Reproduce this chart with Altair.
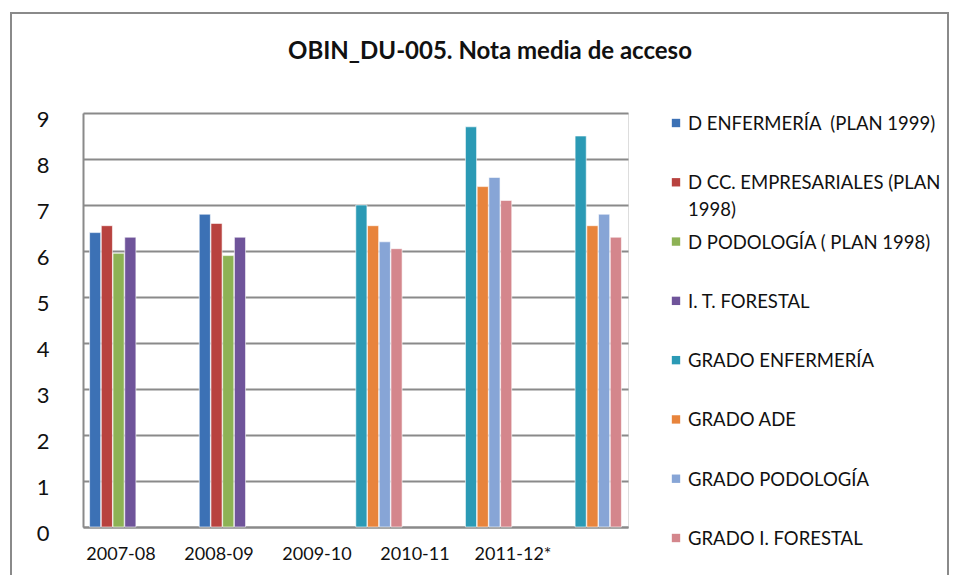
import altair as alt
import pandas as pd

years = ["2007-08", "2008-09", "2009-10", "2010-11", "2011-12*"]
series = [
    "D ENFERMERÍA  (PLAN 1999)",
    "D CC. EMPRESARIALES (PLAN 1998)",
    "D PODOLOGÍA ( PLAN 1998)",
    "I. T. FORESTAL",
    "GRADO ENFERMERÍA",
    "GRADO ADE",
    "GRADO PODOLOGÍA",
    "GRADO I. FORESTAL",
]
colors = ["#3C71B5", "#B8423F", "#8DB255", "#6F549A", "#2B9AB5", "#E8843C", "#87A5D6", "#D4868C"]
title_text = ["OBIN_DU-005. Nota media de acceso"]

d_enf = [6.4, 6.8, None, None, None]
d_cce = [6.55, 6.6, None, None, None]
d_pod = [5.95, 5.9, None, None, None]
it_for = [6.3, 6.3, None, None, None]
g_enf = [None, None, 7.0, 8.7, 8.5]
g_ade = [None, None, 6.55, 7.4, 6.55]
g_pod = [None, None, 6.2, 7.6, 6.8]
g_for = [None, None, 6.05, 7.1, 6.3]

values = [d_enf, d_cce, d_pod, it_for, g_enf, g_ade, g_pod, g_for]
rows = []
for s, vals in zip(series, values):
    for y, v in zip(years, vals):
        rows.append({"year": y, "series": s, "value": v})
df = pd.DataFrame(rows)

# legend table (display labels: keep double space, wrap the long one)
leg_df = pd.DataFrame({
    "series": series,
    "lab": [s.replace("  ", " \u00a0").replace("(PLAN 1998)", "(PLAN\n1998)") for s in series],
})
year_df = pd.DataFrame({"year": years})

W, H = 545, 414
FONT = "Lato"
color_scale = alt.Scale(domain=series, range=colors)

bars = alt.Chart(df).mark_bar(stroke="white", strokeWidth=0.6).encode(
    x=alt.X("year:N", sort=years, title=None,
            scale=alt.Scale(paddingInner=0.15, paddingOuter=0.06),
            axis=alt.Axis(labels=False, ticks=False, domainColor="#8a8a8a", domainWidth=2)),
    xOffset=alt.XOffset("series:N", sort=series,
                        scale=alt.Scale(domain=series, paddingInner=0.05)),
    y=alt.Y("value:Q", title=None,
            scale=alt.Scale(domain=[0, 9], nice=False),
            axis=alt.Axis(values=list(range(10)), labelFontSize=22, labelColor="#111",
                          labelFont=FONT, ticks=False, domainColor="#8a8a8a",
                          domainWidth=2, gridColor="#8a8a8a", gridWidth=2,
                          labelPadding=34, labelOffset=6)),
    color=alt.Color("series:N", sort=series, scale=color_scale, legend=None),
).transform_filter("isValid(datum.value)")

# category labels (perspective-shifted front plane)
xlabels = alt.Chart(year_df).mark_text(
    font=FONT, fontSize=18, color="#111", baseline="middle", align="center"
).encode(
    x=alt.X("year:N", sort=years, axis=None,
            scale=alt.Scale(type="point", range=[38, 430], padding=0)),
    y=alt.value(H + 28),
    text="year:N",
)

leg_sym = alt.Chart(leg_df).mark_point(shape="square", filled=True, size=70, opacity=1).encode(
    x=alt.value(593),
    y=alt.Y("series:N", sort=series, axis=None,
            scale=alt.Scale(type="point", range=[10, 425], padding=0)),
    color=alt.Color("series:N", sort=series, scale=color_scale, legend=None),
)
leg_txt = alt.Chart(leg_df).mark_text(
    font=FONT, fontSize=18.5, color="#111", align="left", baseline="alphabetic",
    dy=7, lineBreak="\n", lineHeight=27
).encode(
    x=alt.value(605),
    y=alt.Y("series:N", sort=series, axis=None,
            scale=alt.Scale(type="point", range=[10, 425], padding=0)),
    text="lab:N",
)

frame = alt.Chart(pd.DataFrame({"k": [0]})).mark_rect(
    fill=None, stroke="#8a8a8a", strokeWidth=2
).encode(
    x=alt.value(-72), x2=alt.value(865), y=alt.value(-100), y2=alt.value(466)
)

title = alt.Chart(pd.DataFrame({"t": title_text})).mark_text(
    font=FONT, fontSize=24, fontWeight="bold", color="#111", align="center", baseline="middle"
).encode(text="t:N", x=alt.value(407), y=alt.value(-61))

chart = alt.layer(bars, xlabels, leg_sym, leg_txt, frame, title).resolve_scale(
    x="independent", y="independent"
).properties(
    width=W, height=H,
    autosize=alt.AutoSizeParams(type="none"),
    padding={"left": 75, "top": 105, "right": 321, "bottom": 48},
).configure_view(stroke=None).configure(background="white")

chart.save("out.html", embed_options={"renderer": "svg", "actions": False})
